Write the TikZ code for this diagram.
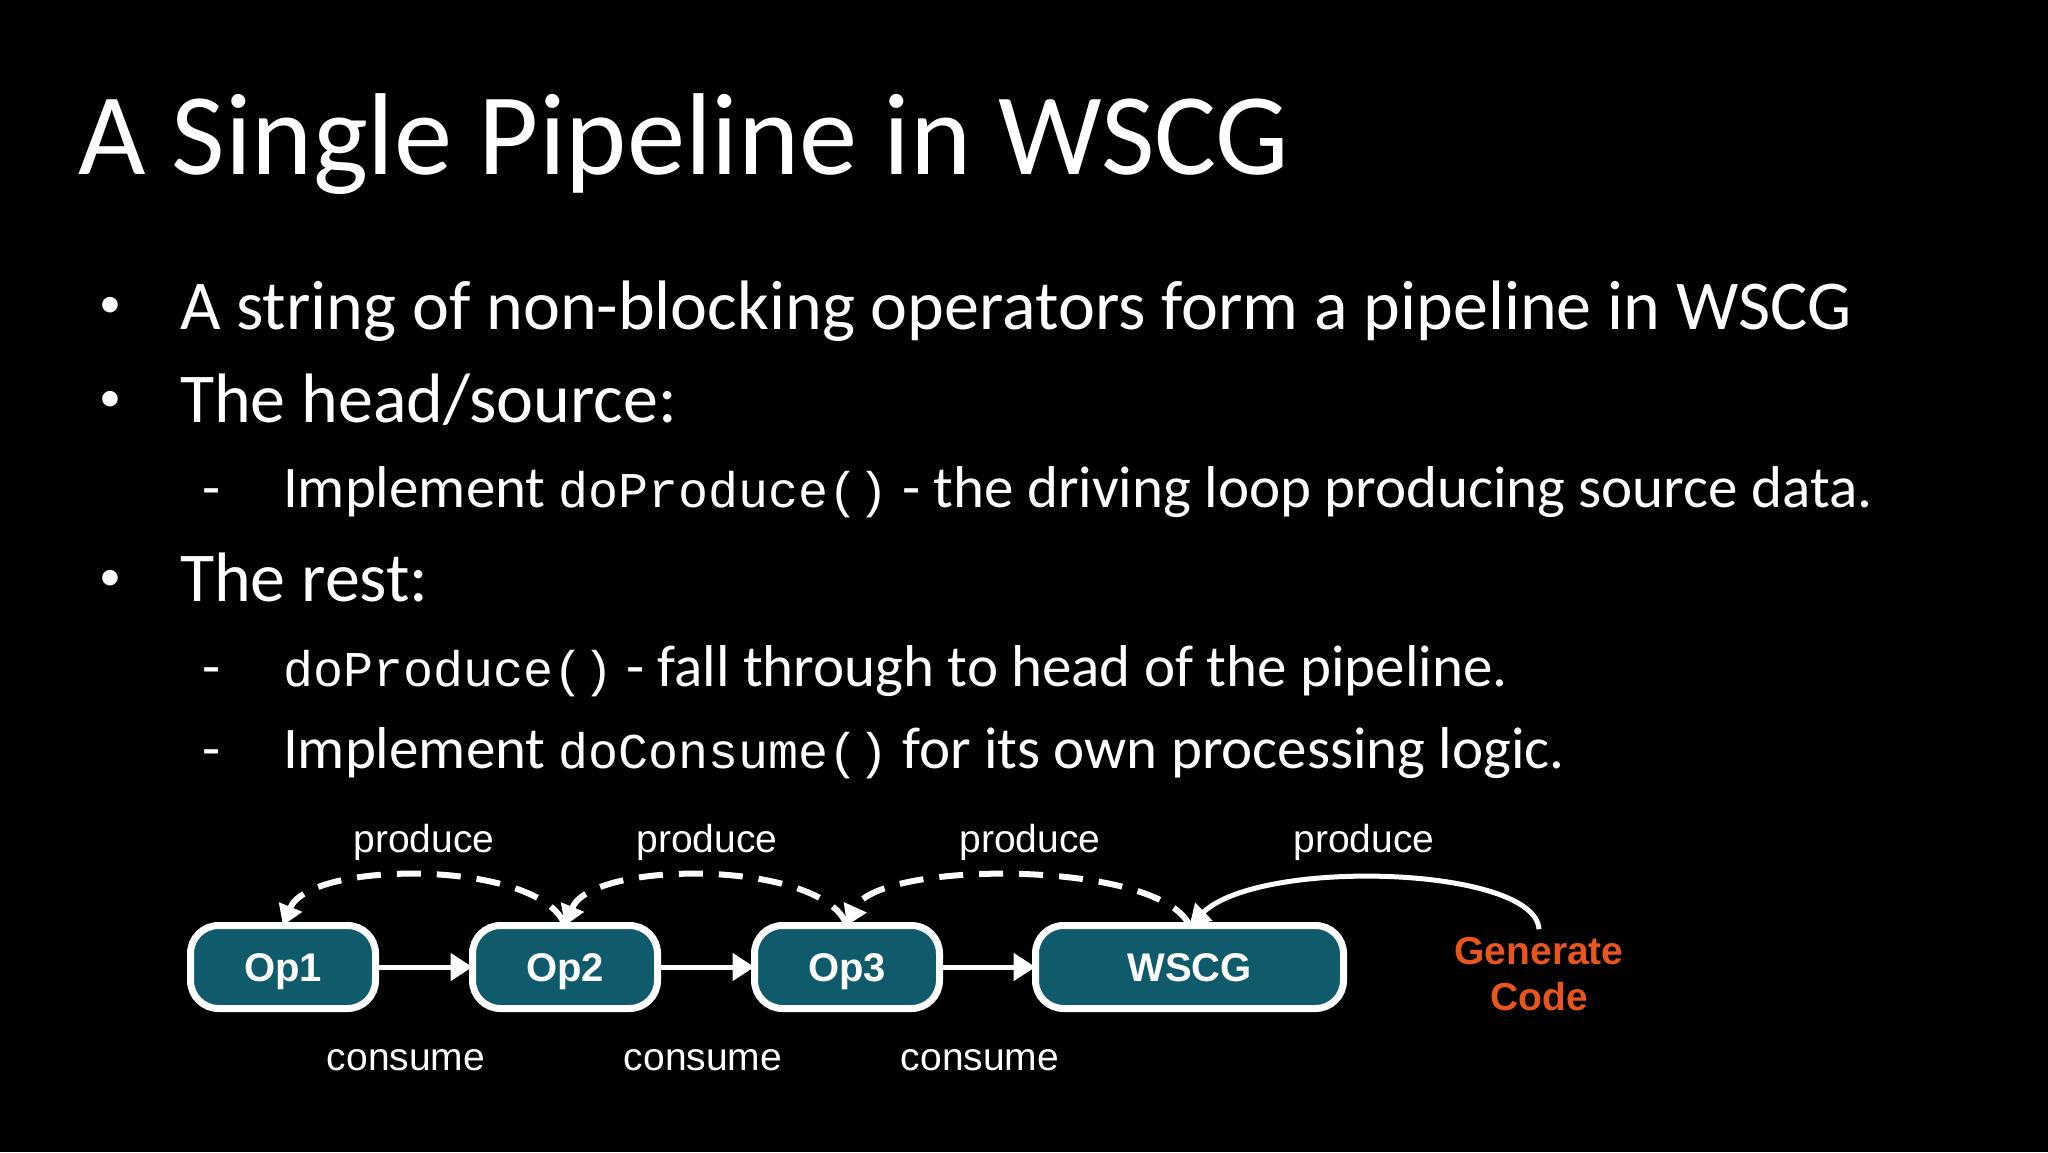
\documentclass[tikz,border=0pt]{standalone}
\usepackage{fontspec}
\setmainfont{Carlito}
\newfontfamily\codefont{Liberation Mono}
\newfontfamily\diafont{Liberation Sans}
\usetikzlibrary{arrows.meta}
\definecolor{tealbox}{HTML}{0F5A6B}
\definecolor{orng}{HTML}{E8561E}
\newcommand{\cd}[1]{{\codefont\fontsize{50}{60}\selectfont #1}}
\begin{document}
\begin{tikzpicture}[x=1pt,y=-1pt,
  every node/.style={inner sep=0pt, outer sep=0pt},
  body/.style={font=\fontsize{70}{84}\selectfont, text=white, anchor=base west},
  subbody/.style={font=\fontsize{59}{70}\selectfont, text=white, anchor=base west},
  bul/.style={font=\fontsize{44}{50}\selectfont, text=white, anchor=center},
  dsh/.style={font=\fontsize{59}{70}\selectfont, text=white, anchor=base},
  opbox/.style={draw=white, line width=7pt, fill=tealbox, rounded corners=28pt,
    minimum height=83pt, text=white, text height=28pt, text depth=0pt,
    font=\diafont\bfseries\fontsize{40}{46}\selectfont},
  lbl/.style={text=white, anchor=base, font=\diafont\fontsize{39}{46}\selectfont},
  conarrow/.style={draw=white, line width=5pt, -{Triangle[length=22pt,width=27pt]}},
  prodarrow/.style={draw=white, line width=6pt, dash pattern=on 24pt off 16pt, -{Triangle[length=20pt,width=24pt]}},
  genarrow/.style={draw=white, line width=5pt, -{Triangle[length=20pt,width=24pt]}}
]
\fill[black] (0,0) rectangle (2048,1152);
\useasboundingbox (0,0) rectangle (2048,1152);

% title
\node[anchor=base west, font=\fontsize{116.5}{130}\selectfont, text=white] (title) at (78,174) {A Single Pipeline in WSCG};

% bullets
\node[bul] (b1) at (110,307) {•};
\node[body] (t1) at (180,329) {A string of non-blocking operators form a pipeline in WSCG};
\node[bul] (b2) at (110,401) {•};
\node[body] (t2) at (180,422) {The head/source:};
\node[dsh] (d1) at (212,507) {-};
\node[subbody] (t3) at (283,507) {Implement \cd{doProduce()} - the driving loop producing source data.};
\node[bul] (b3) at (110,580) {•};
\node[body] (t4) at (180,601) {The rest:};
\node[dsh] (d2) at (212,686) {-};
\node[subbody] (t5) at (283,686) {\cd{doProduce()} - fall through to head of the pipeline.};
\node[dsh] (d3) at (212,768) {-};
\node[subbody] (t6) at (283,768) {Implement \cd{doConsume()} for its own processing logic.};

% diagram boxes
\node[opbox, minimum width=185pt] (op1) at (283,967) {Op1};
\node[opbox, minimum width=185pt] (op2) at (565,967) {Op2};
\node[opbox, minimum width=185pt] (op3) at (847,967) {Op3};
\node[opbox, minimum width=308pt] (wscg) at (1189.5,967) {WSCG};

% consume arrows
\draw[conarrow] (op1.east) -- (op2.west);
\draw[conarrow] (op2.east) -- (op3.west);
\draw[conarrow] (op3.east) -- (wscg.west);

% produce arcs
\draw[prodarrow] (op2.north) .. controls +(-24,-66) and +(27,-66) .. (op1.north);
\draw[prodarrow] (op3.north) .. controls +(-24,-66) and +(27,-66) .. (op2.north);
\draw[prodarrow] (wscg.north) .. controls +(-30,-66) and +(30,-66) .. (op3.north);

% generate code
\node[text=orng, align=center, font=\diafont\bfseries\fontsize{39}{46}\selectfont] (gen) at (1539,974) {Generate\\Code};
\draw[genarrow] ([yshift=8pt]gen.north) .. controls +(-4,-63) and +(71,-68) .. (wscg.north);

% labels
\node[lbl] (p1) at (424,852) {produce};
\node[lbl] (p2) at (707,852) {produce};
\node[lbl] (p3) at (1030,852) {produce};
\node[lbl] (p4) at (1364,852) {produce};
\node[lbl] (c1) at (406,1070) {consume};
\node[lbl] (c2) at (703,1070) {consume};
\node[lbl] (c3) at (980,1070) {consume};
\end{tikzpicture}
\end{document}
